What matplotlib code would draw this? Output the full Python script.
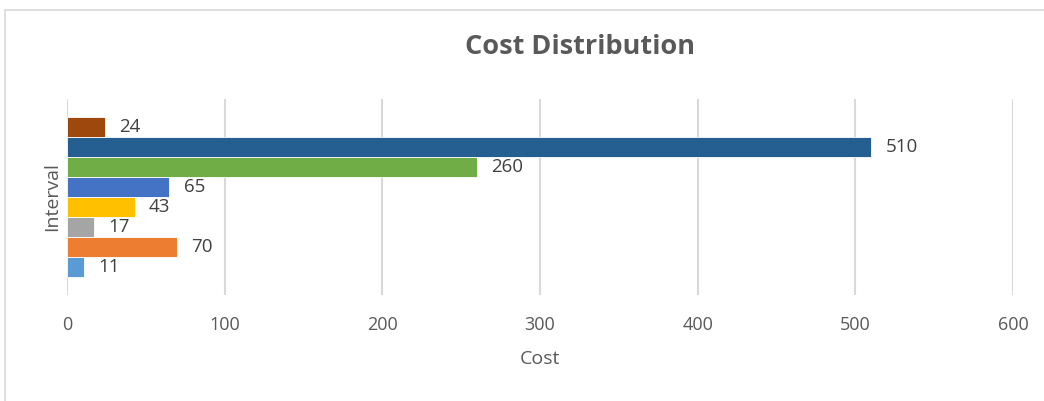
import matplotlib
matplotlib.use('Agg')
import matplotlib.pyplot as plt
from matplotlib.patches import Rectangle

# series in drawing order, bottom bar first
values = [11, 70, 17, 43, 65, 260, 510, 24]
colors = ['#5B9BD5', '#ED7D31', '#A5A5A5', '#FFC000', '#4472C4', '#70AD47', '#255E91', '#9E480E']
x_ticks = [0, 100, 200, 300, 400, 500, 600]

plt.rcParams['font.family'] = ['Open Sans', 'DejaVu Sans']
text_color = '#595959'

fig = plt.figure(figsize=(10.44, 4.01), dpi=100)
# chart frame (only top and left edges show)
fig.patches.append(Rectangle((4.5 / 1044, -0.1), 1.2, 1 - 9.5 / 401 + 0.1,
                             transform=fig.transFigure, fill=False,
                             edgecolor='#D9D9D9', linewidth=1.2))

ax = fig.add_axes([67 / 1044, 1 - 295 / 401, (1013 - 67) / 1044, 196 / 401])
pos = list(range(len(values)))
ax.barh(pos, values, height=1.0, color=colors, edgecolor='white', linewidth=0.6, zorder=3)
for p, v in zip(pos, values):
    ax.text(v + 9, p, str(v), va='center', ha='left', fontsize=13.5, color='#404040')

ax.set_xlim(0, 600)
ax.set_ylim(-1.4, 8.4)
ax.set_xticks(x_ticks)
ax.set_xticklabels([str(t) for t in x_ticks])
ax.set_yticks([])
ax.grid(axis='x', color='#D9D9D9', linewidth=1.5, zorder=0)
for s in ax.spines.values():
    s.set_visible(False)
ax.tick_params(axis='x', length=0, pad=15, labelsize=13, labelcolor=text_color)

ax.set_xlabel('Cost', fontsize=14, color=text_color, labelpad=12)
ax.set_ylabel('Interval', fontsize=14, color=text_color, labelpad=4)
fig.text(580 / 1044, 1 - 47 / 401, 'Cost Distribution', ha='center', va='center',
         fontsize=19.5, fontweight='bold', color=text_color)

fig.savefig('out.png', dpi=100)
